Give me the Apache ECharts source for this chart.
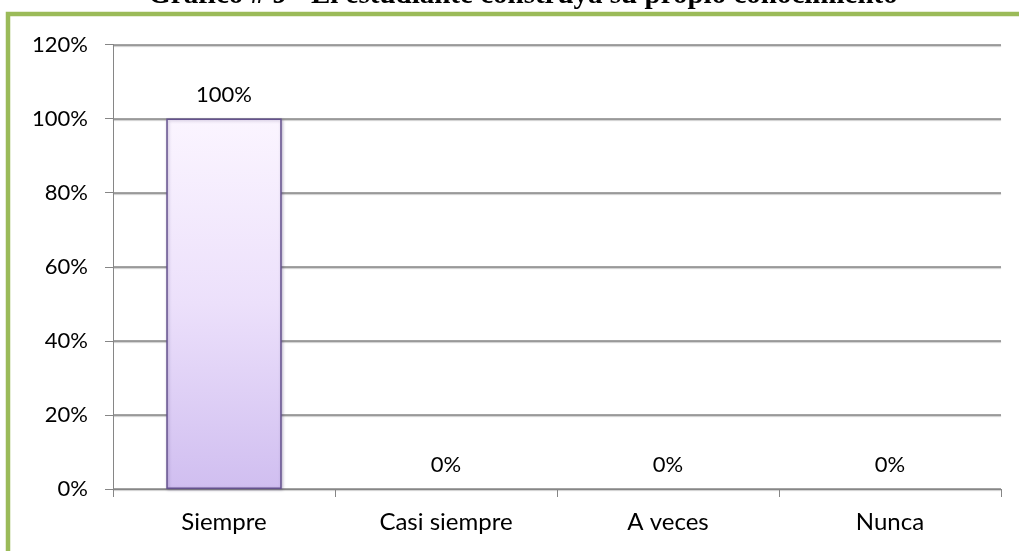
<!DOCTYPE html>
<html>
<head>
<meta charset="utf-8">
<script src="https://cdn.jsdelivr.net/npm/echarts@6/dist/echarts.min.js"></script>
<style>
  html, body { margin: 0; padding: 0; background: #fff; }
  #chart { width: 1019px; height: 551px; }
</style>
</head>
<body>
<div id="chart"></div>
<script>
const categories = ["Siempre", "Casi siempre", "A veces", "Nunca"];
const percentValues = [100, 0, 0, 0];
const yTicks = [0, 20, 40, 60, 80, 100, 120];
const titleText = "Gráfico # 9 - El estudiante construya su propio conocimiento";

const chartDom = document.getElementById("chart");
const chart = echarts.init(chartDom, null, { renderer: "canvas" });

const labelFont = "Lato, 'Open Sans', sans-serif";

// zero bars have no visible outline in the original
const barData = percentValues.map((v) =>
  v === 0 ? { value: v, itemStyle: { borderWidth: 0, shadowBlur: 0, shadowOffsetX: 0, shadowOffsetY: 0 } } : v
);

const option = {
  backgroundColor: "#ffffff",
  animation: false,
  grid: { left: 113, right: 18, top: 44.5, bottom: 62 },
  graphic: [
    {
      type: "rect",
      shape: { x: 8, y: 14, width: 1100, height: 600 },
      style: { fill: "none", stroke: "#9bbb59", lineWidth: 4.5 },
      z: 100
    },
    {
      type: "text",
      x: 523,
      y: -19,
      style: {
        text: titleText,
        font: "bold 29px 'Liberation Serif', serif",
        fill: "#000",
        align: "center",
        verticalAlign: "top"
      },
      z: 99
    }
  ],
  xAxis: {
    type: "category",
    data: categories,
    axisLine: { lineStyle: { color: "#868686", width: 1 } },
    axisTick: { show: true, length: 8, lineStyle: { color: "#868686" } },
    axisLabel: { color: "#000", fontSize: 24, fontFamily: labelFont, margin: 21 }
  },
  yAxis: {
    type: "value",
    min: 0,
    max: 120,
    interval: 20,
    axisLine: { show: true, lineStyle: { color: "#868686", width: 1 } },
    axisTick: { show: true, length: 8, inside: false, lineStyle: { color: "#868686" } },
    splitLine: {
      lineStyle: { color: "#868686", width: 1.5, shadowColor: "rgba(0,0,0,0.25)", shadowOffsetY: 1, shadowBlur: 1 }
    },
    axisLabel: {
      color: "#000",
      fontSize: 22,
      fontFamily: labelFont,
      margin: 25,
      formatter: (v) => (yTicks.includes(v) ? v + "%" : "")
    }
  },
  series: [
    {
      type: "bar",
      data: barData,
      barWidth: "52%",
      itemStyle: {
        color: new echarts.graphic.LinearGradient(0, 0, 0, 1, [
          { offset: 0, color: "#fbf5ff" },
          { offset: 0.5, color: "#ece0fb" },
          { offset: 1, color: "#d0bef0" }
        ]),
        borderColor: "#65528e",
        borderWidth: 1.5,
        shadowColor: "rgba(60,40,100,0.3)",
        shadowBlur: 3,
        shadowOffsetX: 1,
        shadowOffsetY: 1
      },
      label: {
        show: true,
        position: "top",
        distance: 13,
        color: "#000",
        fontSize: 22,
        fontFamily: labelFont,
        formatter: (p) => p.value + "%"
      }
    }
  ]
};

chart.setOption(option);
window.addEventListener("resize", () => chart.resize());
</script>
</body>
</html>
